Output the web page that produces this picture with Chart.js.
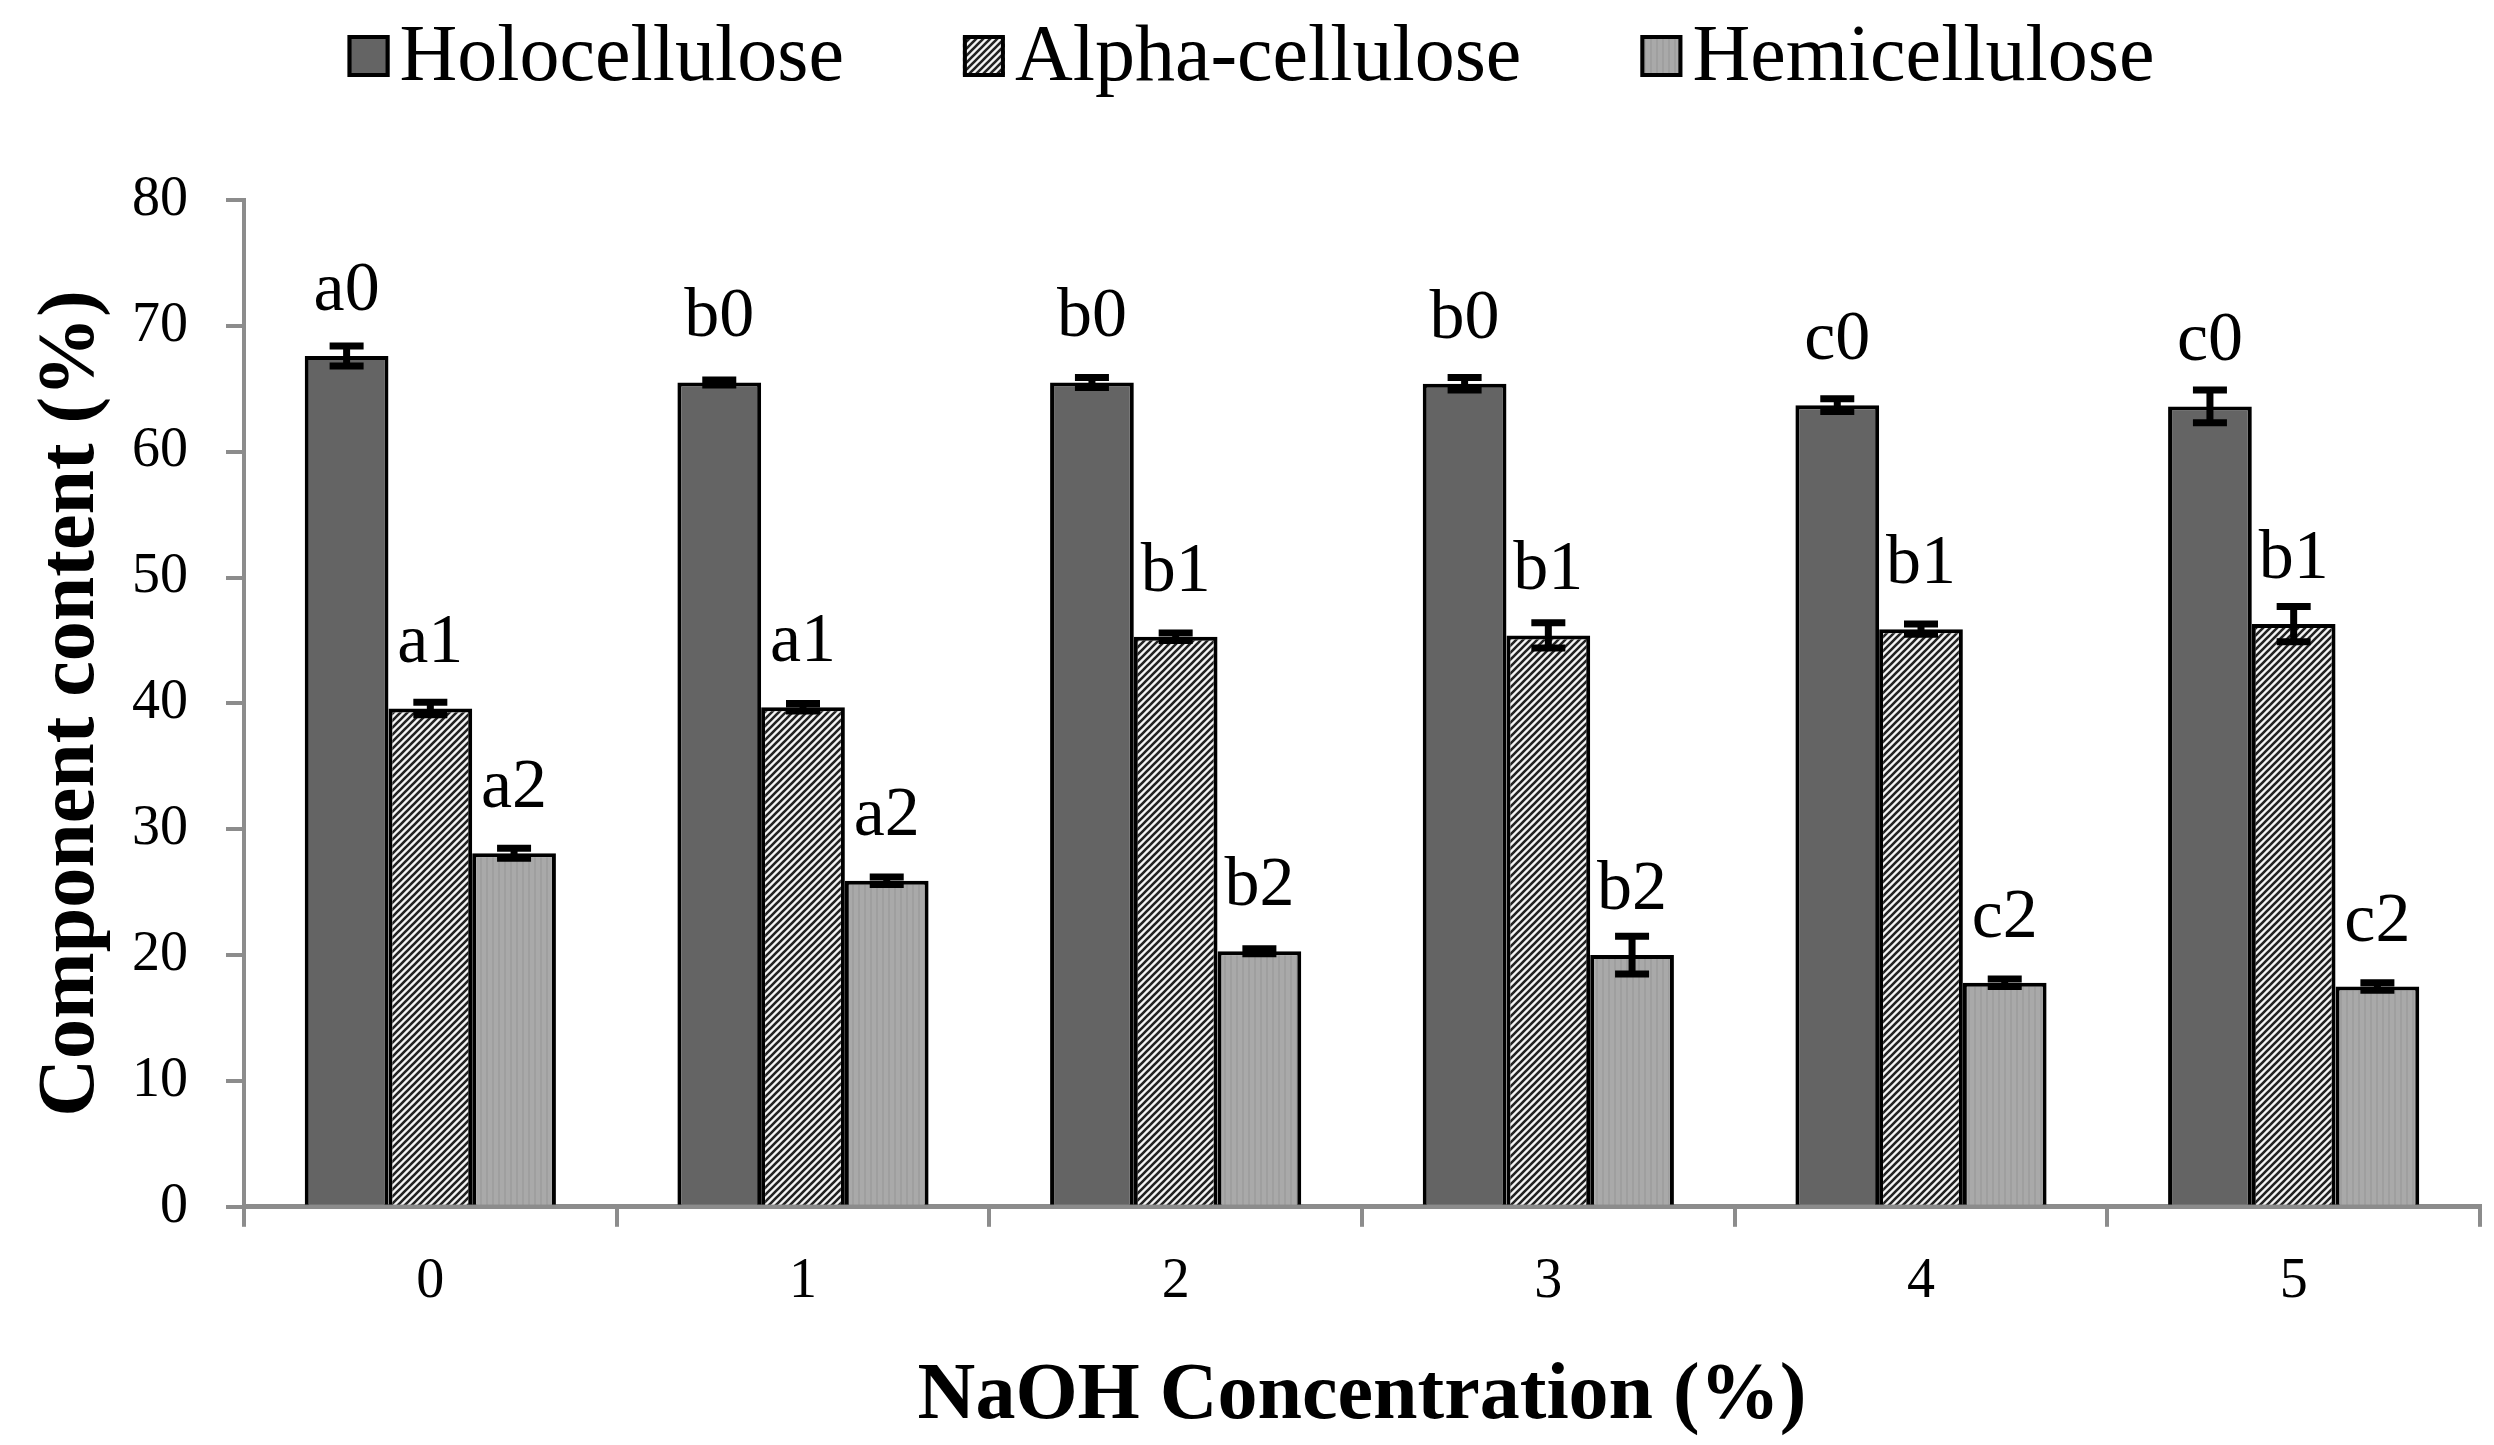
<!DOCTYPE html>
<html>
<head>
<meta charset="utf-8">
<script src="https://cdn.jsdelivr.net/npm/chart.js"></script>
<style>
  body { margin: 0; background: #fff; }
  #wrap { width: 2494px; height: 1445px; }
</style>
</head>
<body>
<div id="wrap"><canvas id="ChartComp" width="2494" height="1445"></canvas></div>
<script>
var categories = ['0', '1', '2', '3', '4', '5'];
var holo = [67.6, 65.5, 65.5, 65.4, 63.7, 63.6];
var alpha = [39.6, 39.7, 45.3, 45.4, 45.9, 46.3];
var hemi = [28.1, 25.9, 20.3, 20.0, 17.8, 17.5];
var holoErr = [0.8, 0.2, 0.4, 0.5, 0.5, 1.3];
var alphaErr = [0.5, 0.3, 0.3, 1.0, 0.4, 1.4];
var hemiErr = [0.4, 0.3, 0.2, 1.5, 0.3, 0.3];
var holoLetters = ['a0', 'b0', 'b0', 'b0', 'c0', 'c0'];
var alphaLetters = ['a1', 'a1', 'b1', 'b1', 'b1', 'b1'];
var hemiLetters = ['a2', 'a2', 'b2', 'b2', 'c2', 'c2'];
var yTicks = [0, 10, 20, 30, 40, 50, 60, 70, 80];

var serif = "'Liberation Serif', 'Times New Roman', serif";
var canvas = document.getElementById('ChartComp');
var ctx = canvas.getContext('2d');

function hatch() {
  var c = document.createElement('canvas');
  c.width = 7; c.height = 7;
  var x = c.getContext('2d');
  x.fillStyle = '#f4f4f4';
  x.fillRect(0, 0, 7, 7);
  x.strokeStyle = '#222';
  x.lineWidth = 2.6;
  x.beginPath();
  x.moveTo(-1, 8); x.lineTo(8, -1);
  x.moveTo(-8, 8); x.lineTo(8, -8);
  x.moveTo(-1, 15); x.lineTo(15, -1);
  x.stroke();
  return ctx.createPattern(c, 'repeat');
}

function stripes() {
  var c = document.createElement('canvas');
  c.width = 6; c.height = 6;
  var x = c.getContext('2d');
  x.fillStyle = '#a9a9a9';
  x.fillRect(0, 0, 6, 6);
  x.fillStyle = '#9f9f9f';
  x.fillRect(0, 0, 2, 6);
  return ctx.createPattern(c, 'repeat');
}

var errors = [holoErr, alphaErr, hemiErr];
var letters = [holoLetters, alphaLetters, hemiLetters];

var barExtras = {
  id: 'barExtras',
  afterDatasetsDraw: function(chart) {
    var c = chart.ctx;
    var y = chart.scales.y;
    c.save();
    chart.data.datasets.forEach(function(ds, d) {
      var meta = chart.getDatasetMeta(d);
      meta.data.forEach(function(bar, i) {
        var v = ds.data[i];
        var e = errors[d][i];
        var yt = y.getPixelForValue(v + e);
        var yb = y.getPixelForValue(v - e);
        c.strokeStyle = '#000';
        c.lineWidth = 7;
        c.beginPath();
        c.moveTo(bar.x, yt); c.lineTo(bar.x, yb);
        c.stroke();
        c.beginPath();
        c.moveTo(bar.x - 17, yt); c.lineTo(bar.x + 17, yt);
        c.moveTo(bar.x - 17, yb); c.lineTo(bar.x + 17, yb);
        c.stroke();
        c.fillStyle = '#000';
        c.font = '70px ' + serif;
        c.textAlign = 'center';
        c.textBaseline = 'alphabetic';
        c.fillText(letters[d][i], bar.x, bar.y - 46);
      });
    });
    c.restore();
  }
};

// legend drawn by hand: box sits right against its text like the original
var legendBox = {
  id: 'legendBox',
  afterDraw: function(chart) {
    var c = chart.ctx;
    var box = 42, gapIn = 10, gapOut = 119;
    c.save();
    c.font = '80px ' + serif;
    var sets = chart.data.datasets;
    var total = 0;
    sets.forEach(function(ds) { total += box + gapIn + c.measureText(ds.label).width; });
    total += gapOut * (sets.length - 1);
    var x = chart.width / 2 - total / 2 + 4;
    sets.forEach(function(ds) {
      c.fillStyle = ds.backgroundColor;
      c.fillRect(x, 35, box, box);
      c.strokeStyle = '#000';
      c.lineWidth = 4;
      c.strokeRect(x + 2, 37, box - 4, box - 4);
      c.fillStyle = '#000';
      c.textAlign = 'left';
      c.textBaseline = 'alphabetic';
      c.fillText(ds.label, x + box + gapIn, 80);
      x += box + gapIn + c.measureText(ds.label).width + gapOut;
    });
    c.restore();
  }
};

var chartdata = {
  labels: categories,
  datasets: [
    { label: 'Holocellulose', data: holo, backgroundColor: '#646464', borderColor: '#000', borderWidth: 4 },
    { label: 'Alpha-cellulose', data: alpha, backgroundColor: hatch(), borderColor: '#000', borderWidth: 4 },
    { label: 'Hemicellulose', data: hemi, backgroundColor: stripes(), borderColor: '#000', borderWidth: 4 }
  ]
};

var barGraph = new Chart(ctx, {
  type: 'bar',
  data: chartdata,
  plugins: [barExtras, legendBox],
  options: {
    responsive: false,
    animation: false,
    devicePixelRatio: 1,
    layout: { padding: { top: 200, left: 24, right: 14, bottom: 0 } },
    datasets: { bar: { barPercentage: 1, categoryPercentage: 0.674 } },
    plugins: {
      tooltip: { enabled: false },
      legend: { display: false }
    },
    scales: {
      x: {
        grid: { drawOnChartArea: false, drawTicks: true, tickLength: 20, color: '#8c8c8c', lineWidth: 4 },
        border: { display: true, color: '#8c8c8c', width: 5 },
        ticks: { color: '#000', font: { family: serif, size: 56 }, padding: 22 },
        title: { display: true, text: 'NaOH Concentration (%)', color: '#000', font: { family: serif, size: 80, weight: 'bold' }, padding: { top: 11, bottom: 0 } }
      },
      y: {
        min: 0,
        max: 80,
        afterBuildTicks: function(axis) {
          axis.ticks = yTicks.map(function(t) { return { value: t }; });
        },
        grid: { drawOnChartArea: false, drawTicks: true, tickLength: 18, color: '#8c8c8c', lineWidth: 4 },
        border: { display: true, color: '#8c8c8c', width: 4 },
        ticks: { color: '#000', font: { family: serif, size: 56 }, padding: 38 },
        title: { display: true, text: 'Component content (%)', color: '#000', font: { family: serif, size: 80, weight: 'bold' }, padding: { top: 0, bottom: -26 } }
      }
    }
  }
});
</script>
</body>
</html>
